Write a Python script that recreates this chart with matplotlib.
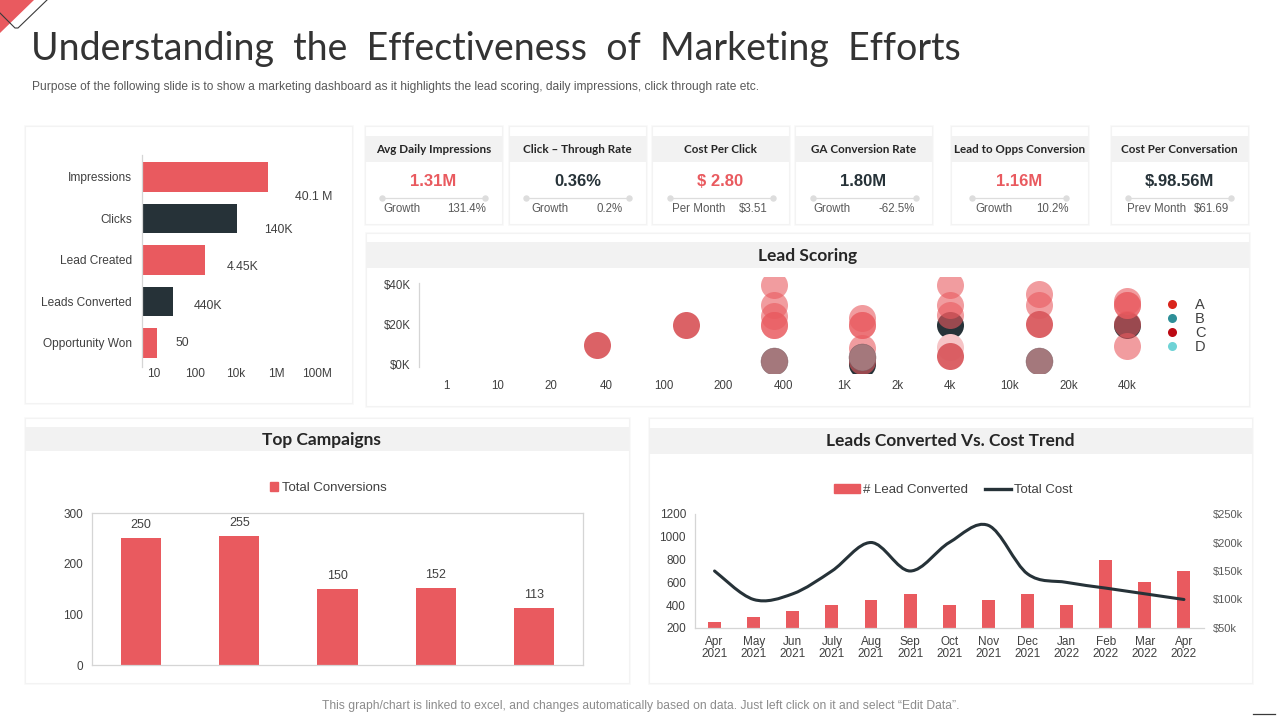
import matplotlib
matplotlib.use("Agg")
import numpy as np
from matplotlib import pyplot as plt
from matplotlib.lines import Line2D
from matplotlib.patches import Patch, PathPatch, Polygon, Rectangle
from matplotlib.path import Path

RED = "#E95A5F"
DARK = "#263238"
GREY = "#404040"
BAND = "#F2F2F2"
HEAD_FONT = ["Lato", "DejaVu Sans"]
BODY_FONT = ["Liberation Sans", "DejaVu Sans"]

plt.rcParams["font.family"] = BODY_FONT

# funnel chart
funnel_names = ["Impressions", "Clicks", "Lead Created", "Leads Converted", "Opportunity Won"]
funnel_lengths = [3.10, 2.34, 1.56, 0.77, 0.38]
funnel_labels = ["40.1 M", "140K", "4.45K", "440K", "50"]
funnel_ticks = ["10", "100", "10k", "1M", "100M"]

# kpi cards
kpi_titles = ["Avg Daily Impressions", "Click \u2013 Through Rate", "Cost Per Click",
              "GA Conversion Rate", "Lead to Opps Conversion", "Cost Per Conversation"]
kpi_values = ["1.31M", "0.36%", "$ 2.80", "1.80M", "1.16M", "$.98.56M"]
kpi_sub_names = ["Growth", "Growth", "Per Month", "Growth", "Growth", "Prev Month"]
kpi_sub_values = ["131.4%", "0.2%", "$3.51", "-62.5%", "10.2%", "$61.69"]
kpi_red = [True, False, True, False, True, False]

# lead scoring, x is the group number, y is $K
score_ticks = ["1", "10", "20", "40", "100", "200", "400", "1K", "2k", "4k", "10k", "20k", "40k"]
score_tick_pos = [-1.71, -1.13, -0.52, 0.10, 0.75, 1.43, 2.11, 2.80, 3.40, 4.00, 4.67, 5.34, 6.00]
dark_x = [3, 4, 6]
dark_y = [0.5, 20, 20]
mauve_x = [2, 3, 5]
mauve_y = [2, 4, 2]
pale_x = [4]
pale_y = [9]
red_x = [2, 2, 2, 2, 2, 3, 3, 3, 3, 3, 4, 4, 4, 5, 5, 6, 6, 6, 6, 6]
red_y = [40, 30, 24.5, 20, 20, 23.5, 20, 20, 8.5, 2, 40, 30, 25, 35.5, 30, 32, 30, 30, 20.5, 9.5]
deep_x = [0, 1, 4, 5]
deep_y = [10, 20, 4.5, 20.5]
score_legend = ["A", "B", "C", "D"]
score_legend_colors = ["#D9251C", "#2E8F98", "#BC0A14", "#6FD3D6"]

# top campaigns
campaign_values = [250, 255, 150, 152, 113]

# leads converted vs cost
months = ["Apr\n2021", "May\n2021", "Jun\n2021", "July\n2021", "Aug\n2021", "Sep\n2021", "Oct\n2021",
          "Nov\n2021", "Dec\n2021", "Jan\n2022", "Feb\n2022", "Mar\n2022", "Apr\n2022"]
leads_converted = [250, 300, 345, 400, 450, 500, 400, 450, 500, 400, 800, 600, 700]
total_cost = [150, 100, 110, 150, 200, 150, 200, 230, 145, 130, 120, 110, 100]

fig = plt.figure(figsize=(12.8, 7.2), dpi=100, facecolor="white")


def px_axes(left, top, right, bottom):
    ax = fig.add_axes([left / 1280, 1 - bottom / 720, (right - left) / 1280, (bottom - top) / 720])
    ax.patch.set_alpha(0)
    return ax


def card(x0, y0, x1, y1):
    bg.add_patch(Rectangle((x0 - 1.5, y0 - 1.5), x1 - x0 + 3, y1 - y0 + 3, fc="#FAFAFA", ec="none"))
    bg.add_patch(Rectangle((x0, y0), x1 - x0, y1 - y0, fc="white", ec="#F3F3F3", lw=0.8))


def soft_spines(ax, names):
    for side in ax.spines:
        ax.spines[side].set_visible(side in names)
        ax.spines[side].set_color("#D5D5D5")
        ax.spines[side].set_linewidth(0.9)


bg = px_axes(0, 0, 1280, 720)
bg.set_xlim(0, 1280)
bg.set_ylim(720, 0)
bg.axis("off")

# corner decoration
bg.add_patch(Polygon([(0, 0), (34, 0), (0, 33)], fc=RED, ec="none"))
bg.plot([47, 18, 15, 0], [0, 28, 28, 13], color="#3A3A3A", lw=0.8)
bg.plot([1253, 1275], [714, 714], color="#3A3A3A", lw=0.9)

bg.text(31, 49, "Understanding  the  Effectiveness  of  Marketing  Efforts", family=HEAD_FONT,
        fontsize=27, color="#333333", va="center", ha="left")
bg.text(32, 87, "Purpose of the following slide is to show a marketing dashboard as it highlights the lead scoring, daily impressions, click through rate etc.",
        fontsize=8.65, color="#595959", va="center", ha="left")
bg.text(640.5, 706, "This graph/chart is linked to excel, and changes automatically based on data. Just left click on it and select \u201cEdit Data\u201d.",
        fontsize=8.7, color="#8C8C8C", va="center", ha="center")

# panels
card(25, 126, 352, 403)
card(366, 233, 1249, 406)
card(25, 418, 629, 683)
card(649, 418, 1252, 683)
for x0, x1, y0, y1, x_text, y_text, name in [(366, 1249, 242, 268, 808, 256.5, "Lead Scoring"),
                                             (25, 629, 427, 451, 321, 439.5, "Top Campaigns"),
                                             (649, 1252, 428, 454, 950.5, 440.5, "Leads Converted Vs. Cost Trend")]:
    bg.add_patch(Rectangle((x0, y0), x1 - x0, y1 - y0, fc=BAND, ec="none"))
    bg.text(x_text, y_text, name, family=HEAD_FONT, weight="bold", fontsize=12.5,
            color="#262626", ha="center", va="center")

# kpi cards
card_left = [365, 509, 652, 795, 951, 1111]
card_right = [502, 646, 789, 932, 1088, 1248]
line_left = [382, 526, 670, 813, 972, 1128]
line_right = [485, 629, 773, 916, 1066, 1231]
sub_left = [402, 550, 699, 832, 994, 1157]
sub_right = [467, 610, 753, 897, 1052, 1211]
for i in range(6):
    x0, x1 = card_left[i], card_right[i]
    mid = (x0 + x1) / 2
    card(x0, 126, x1, 224)
    bg.add_patch(Rectangle((x0, 136), x1 - x0, 26, fc=BAND, ec="none"))
    bg.text(mid, 149.5, kpi_titles[i], family=HEAD_FONT, weight="bold", fontsize=8.4,
            color="#262626", ha="center", va="center")
    bg.text(mid, 181.5, kpi_values[i], weight="bold", fontsize=12, color=RED if kpi_red[i] else DARK,
            ha="center", va="center")
    bg.plot([line_left[i], line_right[i]], [197.5, 197.5], color="#DDDDDD", lw=0.9, marker="o", ms=3.6,
            markevery=[0, 1])
    bg.text(sub_left[i], 209, kpi_sub_names[i], fontsize=8.3, color="#595959", ha="center", va="center")
    bg.text(sub_right[i], 209, kpi_sub_values[i], fontsize=8.3, color="#595959", ha="center", va="center")

# funnel
ax = px_axes(141.5, 155, 340, 367)
y = np.arange(len(funnel_names))
ax.barh(y, funnel_lengths, height=0.72, color=[RED, DARK, RED, DARK, RED])
ax.set_xlim(0, 4.87)
ax.set_ylim(4.58, -0.53)
ax.set_yticks(y, funnel_names)
ax.set_xticks(np.arange(5) + 0.31, funnel_ticks)
ax.tick_params(length=0, labelsize=8.6, labelcolor=GREY)
ax.tick_params(axis="y", pad=7)
ax.tick_params(axis="x", pad=1)
soft_spines(ax, ["left"])
label_dx = [46, 41, 38, 35, 25]
label_dy = [-20, -12, -7, -5, 0]
for i in range(5):
    ax.annotate(funnel_labels[i], (funnel_lengths[i], y[i]), xytext=(label_dx[i] * 0.72, label_dy[i] * 0.72),
                textcoords="offset points", ha="center", va="center", fontsize=8.8, color=GREY)

# lead scoring
ax = px_axes(419, 277, 1155, 372.6)
size = 378
ax.scatter(dark_x, dark_y, s=size, color=DARK, lw=0, zorder=1)
ax.scatter(pale_x, pale_y, s=size, color="#F6C4C6", lw=0, zorder=1)
ax.scatter(red_x, red_y, s=size, color=RED, alpha=0.6, lw=0, zorder=2)
ax.scatter(deep_x, deep_y, s=size, color="#D9595E", alpha=0.95, lw=0, zorder=2)
ax.scatter(mauve_x, mauve_y, s=size, color="#A4787C", ec="#7A5A60", lw=0.3, zorder=3)
ax.set_xlim(-2.02, 6.32)
ax.set_ylim(-3.8, 44)
ax.set_yticks([0, 20, 40], ["$0K", "$20K", "$40K"])
ax.set_xticks(score_tick_pos, score_ticks)
ax.tick_params(length=0, labelsize=8.3, labelcolor=GREY)
ax.tick_params(axis="y", pad=6)
ax.tick_params(axis="x", pad=5.5)
soft_spines(ax, ["left"])
ax.spines["left"].set_bounds(-1, 41)
handles = [Line2D([], [], ls="none", marker="o", ms=6.5, color=c, mew=0) for c in score_legend_colors]
ax.legend(handles, score_legend, loc="center left", bbox_to_anchor=(1157 / 1280, 1 - 326 / 720),
          bbox_transform=fig.transFigure, frameon=False, fontsize=10.5, labelspacing=0.0, handletextpad=0.6,
          labelcolor=GREY, borderpad=0, borderaxespad=0)

# top campaigns
ax = px_axes(92, 513, 583, 665)
x = np.arange(len(campaign_values))
bars = ax.bar(x, campaign_values, width=0.41, color=RED)
ax.bar_label(bars, padding=5, fontsize=9, color=GREY)
ax.set_xlim(-0.5, 4.5)
ax.set_ylim(0, 300)
ax.set_yticks([0, 100, 200, 300])
ax.set_xticks([])
ax.tick_params(length=0, labelsize=8.5, labelcolor=GREY, pad=6.5)
soft_spines(ax, ["left", "right", "top", "bottom"])
ax.legend([Patch(color=RED)], ["Total Conversions"], loc="center", bbox_to_anchor=(328 / 1280, 1 - 488 / 720),
          bbox_transform=fig.transFigure, frameon=False, fontsize=9.5, handlelength=0.6, handleheight=0.6,
          handletextpad=0.3, labelcolor=GREY)

# leads converted vs cost
ax = px_axes(695, 514, 1203.5, 628)
x = np.arange(len(months))
ax.bar(x, leads_converted, width=0.33, color=RED)
ax.set_xlim(-0.5, 12.5)
ax.set_ylim(200, 1200)
ax.set_xticks(x, months)
ax.set_yticks(range(200, 1201, 200))
ax.tick_params(length=0, labelsize=8.5, labelcolor=GREY)
ax.tick_params(axis="y", pad=6.5)
ax.tick_params(axis="x", pad=6)
for t in ax.get_xticklabels():
    t.set_linespacing(0.95)
soft_spines(ax, ["left", "bottom"])

ax2 = ax.twinx()
ax2.patch.set_alpha(0)
ax2.set_ylim(50, 250)
ax2.set_yticks(range(50, 251, 50), [f"${v}k" for v in range(50, 251, 50)])
ax2.tick_params(length=0, labelsize=8, labelcolor="#595959", pad=7)
soft_spines(ax2, [])

# excel style smoothing, bezier through the points
pts = np.column_stack([x, total_cost]).astype(float)
verts = [pts[0]]
codes = [Path.MOVETO]
for i in range(len(pts) - 1):
    before = pts[max(i - 1, 0)]
    after = pts[min(i + 2, len(pts) - 1)]
    verts += [pts[i] + (pts[i + 1] - before) / 6, pts[i + 1] - (after - pts[i]) / 6, pts[i + 1]]
    codes += [Path.CURVE4] * 3
ax2.add_patch(PathPatch(Path(verts, codes), fc="none", ec=DARK, lw=2.2, capstyle="round"))
handles = [Patch(color=RED), Line2D([], [], color=DARK, lw=2.4)]
ax.legend(handles, ["# Lead Converted", "Total Cost"], loc="center", ncols=2,
          bbox_to_anchor=(953 / 1280, 1 - 490 / 720), bbox_transform=fig.transFigure, frameon=False,
          fontsize=9.5, handlelength=2.0, handleheight=0.6, handletextpad=0.2, columnspacing=1.3, labelcolor=GREY)

fig.savefig("out.png", dpi=100)
